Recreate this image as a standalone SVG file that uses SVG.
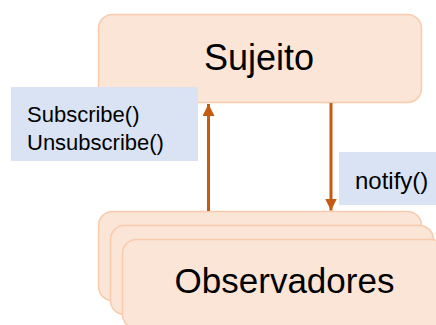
<svg xmlns="http://www.w3.org/2000/svg" width="436" height="325" viewBox="0 0 436 325">
<style>
.box{fill:#FBE5D6;stroke:#F8CBAD;stroke-width:1.5}
.note{fill:#DAE3F3}
.big{font-family:"Liberation Sans",Arial,sans-serif;fill:#000;text-anchor:middle}
.small{font-family:"Liberation Sans",Arial,sans-serif;fill:#000;font-size:22px}
.notify{font-size:24px}
.conn{stroke:#C55A11;stroke-width:3;fill:none}
</style>
<defs>
<marker id="ah" viewBox="0 0 10 10" refX="10" refY="5" markerWidth="4" markerHeight="4" markerUnits="strokeWidth" orient="auto">
<path d="M0,0 L10,5 L0,10 Z" fill="#C55A11"/>
</marker>
</defs>
<g id="sujeito">
<rect class="box" x="98.5" y="14.5" width="323" height="88" rx="14"/>
<text class="big" x="259" y="70" font-size="36">Sujeito</text>
</g>
<g id="observadores">
<rect class="box" x="98.5" y="211.5" width="323" height="89" rx="14"/>
<rect class="box" x="110.5" y="225.5" width="323" height="89" rx="14"/>
<rect class="box" x="122.5" y="239.5" width="323" height="89" rx="14"/>
<text class="big" x="284.5" y="293" font-size="35">Observadores</text>
</g>
<g id="subscribe-label">
<rect class="note" x="11" y="87" width="187" height="74"/>
<text class="small" x="27" y="122">Subscribe()</text>
<text class="small" x="27" y="150">Unsubscribe()</text>
</g>
<g id="notify-label">
<rect class="note" x="339" y="152" width="97" height="53"/>
<text class="small notify" x="355" y="189">notify()</text>
</g>
<g id="connectors">
<line class="conn" x1="208.5" y1="211" x2="208.5" y2="104" marker-end="url(#ah)"/>
<line class="conn" x1="331" y1="103" x2="331" y2="210.5" marker-end="url(#ah)"/>
</g>
</svg>
